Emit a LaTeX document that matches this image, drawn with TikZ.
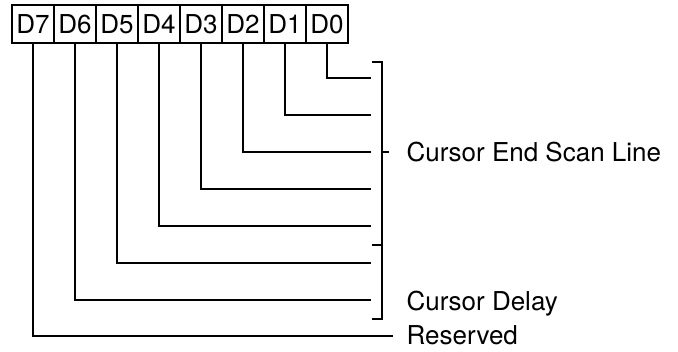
\documentclass[tikz,border=0pt]{standalone}
\usepackage{fontspec}
\setmainfont{TeX Gyre Heros}
\begin{document}
\begin{tikzpicture}[x=1pt,y=-1pt,
  line width=1.3pt,
  bitbox/.style={draw,rectangle,minimum width=42pt,minimum height=38pt,inner sep=0pt,font=\fontsize{26}{30}\selectfont},
  lbl/.style={anchor=base west,inner sep=0pt,font=\fontsize{26}{30}\selectfont},
  wire/.style={line width=1.3pt}]
\useasboundingbox (0,0) rectangle (678,352);
% bit boxes
\node[bitbox] (b7) at (33,24) {D7};
\node[bitbox] (b6) at (75,24) {D6};
\node[bitbox] (b5) at (117,24) {D5};
\node[bitbox] (b4) at (159,24) {D4};
\node[bitbox] (b3) at (201,24) {D3};
\node[bitbox] (b2) at (243,24) {D2};
\node[bitbox] (b1) at (285,24) {D1};
\node[bitbox] (b0) at (327,24) {D0};
% free ends of wires
\coordinate (e0) at (371,78);
\coordinate (e1) at (371,115);
\coordinate (e2) at (371,152);
\coordinate (e3) at (371,189);
\coordinate (e4) at (371,226);
\coordinate (e5) at (371,263);
\coordinate (e6) at (371,300);
% labels
\node[lbl] (l1) at (406,162) {Cursor End Scan Line};
\node[lbl] (l2) at (406,311) {Cursor Delay};
\node[lbl] (l3) at (406,345) {Reserved};
\coordinate (e7) at (393,336);
% wires
\draw[wire] (b0.south) |- (e0);
\draw[wire] (b1.south) |- (e1);
\draw[wire] (b2.south) |- (e2);
\draw[wire] (b3.south) |- (e3);
\draw[wire] (b4.south) |- (e4);
\draw[wire] (b5.south) |- (e5);
\draw[wire] (b6.south) |- (e6);
\draw[wire] (b7.south) |- (e7);
% brackets
\coordinate (t1) at (372,62);
\coordinate (m1) at (372,245);
\coordinate (t2) at (372,319);
\coordinate (k1) at (382,152);
\coordinate (k2) at (389,152);
\draw[wire] (t1) -| (382,319) -- (t2);
\draw[wire] (m1) -- (382,245);
\draw[wire] (k1) -- (k2);
\end{tikzpicture}
\end{document}
